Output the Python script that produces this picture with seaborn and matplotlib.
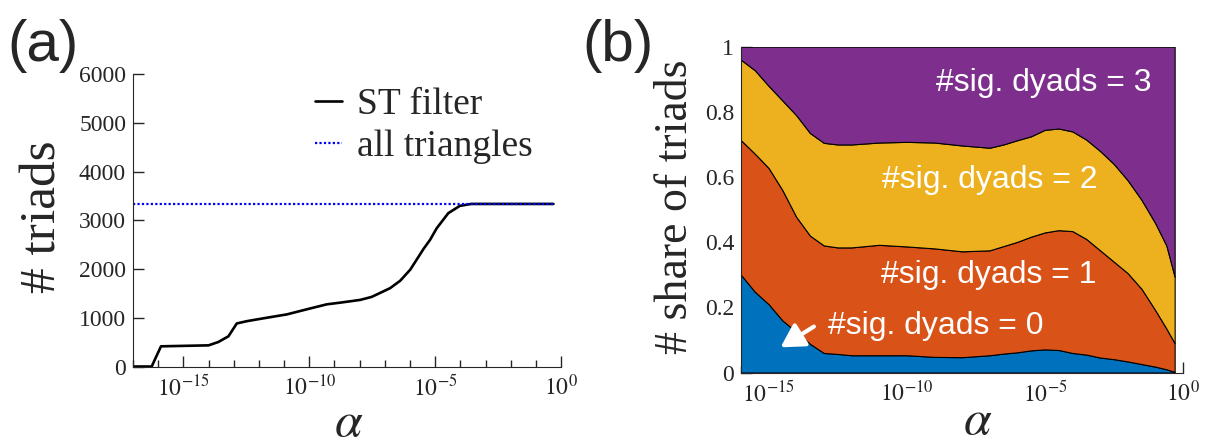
import numpy as np
import pandas as pd
import matplotlib
matplotlib.use("Agg")
import matplotlib.pyplot as plt
import matplotlib.ticker as mticker
import seaborn as sns

# panel (a): number of triads vs alpha (log10 of alpha)
log_alpha_a = [-17.0, -16.26, -15.89, -14.0, -13.61, -13.21, -12.88, -12.48, -11.69,
               -10.89, -10.0, -9.3, -8.77, -7.98, -7.52, -6.79, -6.39, -5.99, -5.46,
               -5.2, -4.94, -4.48, -4.02, -3.57, -0.3]
triads_st = [0, 0, 414, 434, 503, 620, 883, 930, 1000, 1069, 1186, 1276, 1310, 1366,
             1428, 1607, 1759, 1986, 2414, 2600, 2835, 3145, 3295, 3335, 3335]
all_triangles = 3335

# panel (b): cumulative share of triads (upper edge of each band)
log_alpha_b = [-16, -15.5, -15, -14.5, -14, -13.5, -13, -12.5, -12, -11, -10, -9, -8,
               -7, -6.5, -6, -5.5, -5, -4.5, -4, -3.5, -3, -2.5, -2, -1.5, -1, -0.6, -0.3]
top_sig0 = [0.30, 0.248, 0.21, 0.16, 0.125, 0.088, 0.06, 0.057, 0.053, 0.053, 0.053,
            0.048, 0.047, 0.053, 0.058, 0.062, 0.068, 0.071, 0.069, 0.060, 0.055, 0.046,
            0.041, 0.034, 0.026, 0.018, 0.010, 0.002]
top_sig1 = [0.713, 0.672, 0.628, 0.56, 0.478, 0.42, 0.39, 0.384, 0.384, 0.392, 0.387,
            0.381, 0.372, 0.375, 0.388, 0.401, 0.417, 0.43, 0.437, 0.434, 0.41, 0.375,
            0.34, 0.305, 0.257, 0.191, 0.135, 0.09]
top_sig2 = [0.96, 0.928, 0.88, 0.835, 0.79, 0.735, 0.705, 0.70, 0.70, 0.706, 0.708,
            0.706, 0.697, 0.69, 0.70, 0.713, 0.725, 0.745, 0.749, 0.74, 0.715, 0.68,
            0.64, 0.59, 0.53, 0.458, 0.39, 0.294]
band_labels = ["#sig. dyads = 0", "#sig. dyads = 1", "#sig. dyads = 2", "#sig. dyads = 3"]
band_colors = ["#0072BD", "#D95319", "#EDB120", "#7E2F8E"]

major_exp = [-15, -10, -5, 0]

sns.set_style("ticks")
plt.rcParams["font.family"] = ["Liberation Serif", "DejaVu Serif"]
plt.rcParams["mathtext.fontset"] = "stix"

fig = plt.figure(figsize=(12.05, 4.48), dpi=100)
ax_a = fig.add_axes([0.1104, 0.1819, 0.3552, 0.6529])
ax_b = fig.add_axes([0.6149, 0.1685, 0.3668, 0.7272])

df_a = pd.DataFrame({"alpha": 10.0 ** np.array(log_alpha_a), "triads": triads_st})
sns.lineplot(data=df_a, x="alpha", y="triads", ax=ax_a, color="black", lw=1.9,
             estimator=None, label="ST filter")
ax_a.plot([10.0 ** log_alpha_a[0], 10.0 ** log_alpha_a[-1]], [all_triangles] * 2,
          color="#0000ff", lw=1.6, ls=(0, (1, 1)), label="all triangles")

xb = 10.0 ** np.array(log_alpha_b)
edges = [np.zeros(len(xb)), np.array(top_sig0), np.array(top_sig1), np.array(top_sig2),
         np.ones(len(xb))]
for i in range(4):
    ax_b.fill_between(xb, edges[i], edges[i + 1], facecolor=band_colors[i],
                      edgecolor="black", lw=0.8)

for ax, lo in [(ax_a, -17), (ax_b, -16)]:
    ax.set_xscale("log")
    ax.set_xlim(10.0 ** lo, 1.0)
    ax.xaxis.set_major_locator(mticker.FixedLocator([10.0 ** e for e in major_exp]))
    ax.xaxis.set_major_formatter(mticker.FixedFormatter(
        [r"$10^{%d}$" % e for e in major_exp]))
    ax.xaxis.set_minor_locator(mticker.FixedLocator(10.0 ** np.arange(lo, 1)))
    ax.xaxis.set_minor_formatter(mticker.NullFormatter())
    ax.tick_params(axis="both", which="major", direction="in", length=8, width=1,
                   labelsize=17)
    ax.tick_params(axis="x", which="major", pad=6)
    ax.tick_params(axis="y", which="major", pad=5)
    ax.tick_params(axis="x", which="minor", direction="in", length=5, width=1)
    sns.despine(ax=ax)

ax_a.set_ylim(0, 6000)
ax_a.set_yticks(range(0, 6001, 1000))
ax_b.set_ylim(0, 1)
ax_b.set_yticks([0, 0.2, 0.4, 0.6, 0.8, 1])
ax_b.set_yticklabels(["0", "0.2", "0.4", "0.6", "0.8", "1"])

ax_a.set_xlabel(r"$\alpha$", fontsize=36, va="center")
ax_a.xaxis.set_label_coords(0.505, -0.195)
ax_a.set_ylabel("# triads", fontsize=37, va="center")
ax_a.yaxis.set_label_coords(-0.21, 0.513)

ax_b.set_xlabel(r"$\alpha$", fontsize=36, va="center")
ax_b.xaxis.set_label_coords(0.536, -0.150)
ax_b.set_ylabel("# share of triads", fontsize=33, va="center")
ax_b.yaxis.set_label_coords(-0.147, 0.509)

ax_a.legend(loc="upper left", bbox_to_anchor=(315 / 1205, 1 - 88 / 448),
            bbox_transform=fig.transFigure, frameon=False, fontsize=27,
            handlelength=0.72, handletextpad=0.4, labelspacing=0.2,
            borderpad=0, borderaxespad=0)

label_pos = [(0.440, 0.118), (0.560, 0.275), (0.563, 0.566), (0.685, 0.865)]
for (tx, ty), txt in zip(label_pos, band_labels):
    ax_b.text(tx, ty, txt, transform=ax_b.transAxes, ha="center", va="baseline",
              color="white", fontsize=23, family=["Liberation Sans", "DejaVu Sans"])
ax_b.annotate("", xy=(0.0896, 0.0773), xytext=(0.165, 0.141),
              xycoords="axes fraction", textcoords="axes fraction",
              arrowprops=dict(arrowstyle="-|>,head_length=0.7,head_width=0.4",
                              color="white", lw=3, mutation_scale=20,
                              shrinkA=0, shrinkB=0))

fig.text(43.5 / 1205, 1 - 46 / 448, "(a)", fontsize=42, ha="center", va="center",
         family=["Liberation Sans", "DejaVu Sans"])
fig.text(618.5 / 1205, 1 - 46 / 448, "(b)", fontsize=42, ha="center", va="center",
         family=["Liberation Sans", "DejaVu Sans"])

fig.savefig("out.png", dpi=100)
